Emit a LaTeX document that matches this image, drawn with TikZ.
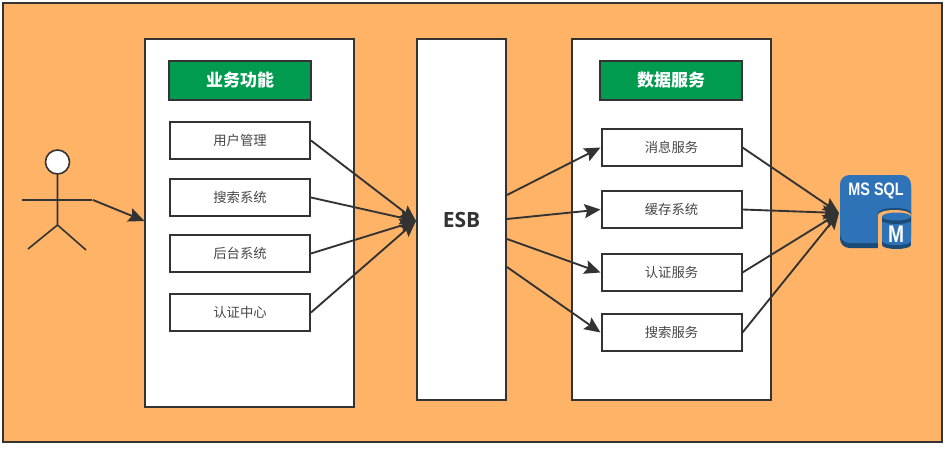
\documentclass[tikz,border=0pt]{standalone}
\usepackage{fontspec}
\setmainfont{Noto Sans CJK SC}
\newfontfamily\sqlfont[FakeStretch=0.8]{Liberation Sans}
\newfontfamily\esbfont{Open Sans}
\usetikzlibrary{arrows.meta,shapes.geometric,calc}
\definecolor{bgorange}{RGB}{255,179,102}
\definecolor{darkline}{RGB}{51,51,51}
\definecolor{titlegreen}{RGB}{0,155,78}
\definecolor{sqlblue}{RGB}{46,115,184}
\definecolor{sqldark}{RGB}{27,76,120}
\newcommand{\boxtext}[1]{\raisebox{-1.2pt}{#1}}
\tikzset{
    panel/.style = {draw=darkline, fill=white, line width=1.5pt, rectangle, inner sep=0pt},
    block/.style = {draw=darkline, fill=white, line width=1.5pt, rectangle, inner sep=0pt,
        minimum height=27.75pt,
        minimum width=105pt, align=center, text=darkline!90, font=\fontsize{10}{11}\selectfont},
    heading/.style = {draw=darkline, fill=titlegreen, line width=1.5pt, rectangle, inner sep=0pt,
        minimum height=29.25pt,
        minimum width=106.5pt, text=white, font=\fontsize{12.75}{14}\selectfont\bfseries},
    arrow/.style = {draw=darkline, line width=1.4pt, -{Stealth[length=12pt,width=10.5pt,inset=2pt]}}
}
\begin{document}
\begin{tikzpicture}[x=0.75pt,y=-0.75pt]
    \useasboundingbox (0,0) rectangle (945,449);
    \node [panel, fill=bgorange, minimum width=704.25pt, minimum height=329.25pt] (back) at (472.5,222.5) {};
    % three columns
    \node [panel, minimum width=156.75pt, minimum height=276pt] (func) at (249.5,223) {};
    \node [panel, minimum width=66.75pt, minimum height=270.75pt, text=darkline, font=\esbfont\fontsize{15.75}{18}\selectfont\bfseries] (esb) at (461.5,219.5) {ESB};
    \node [panel, minimum width=149.25pt, minimum height=270.75pt] (data) at (671.5,219.5) {};
    % left column
    \node [heading] (functitle) at (240,80.5) {\boxtext{业务功能}};
    \node [block] (user) at (240,140.5) {\boxtext{用户管理}};
    \node [block, below of=user, node distance=42.75pt] (search) {\boxtext{搜索系统}};
    \node [block, below of=search, node distance=42pt] (admin) {\boxtext{后台系统}};
    \node [block, below of=admin, node distance=44.25pt] (auth) {\boxtext{认证中心}};
    % right column
    \node [heading] (datatitle) at (671,80.5) {\boxtext{数据服务}};
    \node [block] (msg) at (671.5,147.5) {\boxtext{消息服务}};
    \node [block, below of=msg, node distance=46.5pt] (cache) {\boxtext{缓存系统}};
    \node [block, below of=cache, node distance=47.25pt] (authsrv) {\boxtext{认证服务}};
    \node [block, below of=authsrv, node distance=45pt] (searchsrv) {\boxtext{搜索服务}};
    % actor
    \node [draw=darkline, fill=white, line width=1.2pt, circle, minimum size=18pt, inner sep=0pt] (head) at (57.5,162) {};
    \coordinate (hip) at (57.5,225);
    \coordinate (armL) at (22,200);
    \coordinate (armR) at (92,200);
    \coordinate (legL) at (28,249);
    \coordinate (legR) at (86,250);
    \draw [darkline, line width=1.2pt] (head) -- (hip) (armL) -- (armR) (legL) -- (hip) -- (legR);
    % database icon
    \coordinate (sqlin) at (839,213);
    \fill [sqldark, rounded corners=7pt] (840,178) rectangle (911,248);
    \fill [sqlblue, rounded corners=7pt] (840,175) rectangle (911,243);
    \node [text=white, inner sep=0pt, font=\sqlfont\fontsize{13.5}{15}\selectfont\bfseries] (sqllabel) at (876,191) {MS SQL};
    \fill [sqldark] (878,213) arc[start angle=180,end angle=360,x radius=16.5,y radius=5] -- (911,216) -- (878,216) -- cycle;
    \fill [bgorange] (878,215) arc[start angle=180,end angle=360,x radius=16.5,y radius=5] -- (911,249) -- (878,249) -- cycle;
    % cylinder
    \fill [sqldark] (882,216) rectangle (911,245);
    \fill [sqldark] (896.5,245) ellipse[x radius=14.5,y radius=4];
    \fill [sqlblue] (882,222) rectangle (911,241);
    \fill [sqlblue] (896.5,241) ellipse[x radius=14.5,y radius=4];
    \fill [sqldark] (896.5,220) ellipse[x radius=14.5,y radius=4];
    \fill [sqlblue] (896.5,216.5) ellipse[x radius=14.5,y radius=4];
    \node [text=white, inner sep=0pt, font=\sqlfont\fontsize{18}{19}\selectfont\bfseries] (sqlm) at (896,234) {M};
    % connectors
    \coordinate (funcin) at (144.5,221);
    \coordinate (actorout) at (93,200);
    \coordinate (esbin) at (416,221);
    \draw [arrow] (actorout) -- (funcin);
    \draw [arrow] (user.east) -- (esbin);
    \draw [arrow] (search.east) -- (esbin);
    \draw [arrow] (admin.east) -- (esbin);
    \draw [arrow] (auth.east) -- (esbin);
    \draw [arrow] (esb.east |- 0,195) -- (msg.west);
    \draw [arrow] (esb.east |- 0,219) -- (cache.west);
    \draw [arrow] (esb.east |- 0,239) -- (authsrv.west);
    \draw [arrow] (esb.east |- 0,267) -- (searchsrv.west);
    \draw [arrow] (msg.east) -- (sqlin);
    \draw [arrow] (cache.east) -- (sqlin);
    \draw [arrow] (authsrv.east) -- (sqlin);
    \draw [arrow] (searchsrv.east) -- (sqlin);
\end{tikzpicture}
\end{document}
